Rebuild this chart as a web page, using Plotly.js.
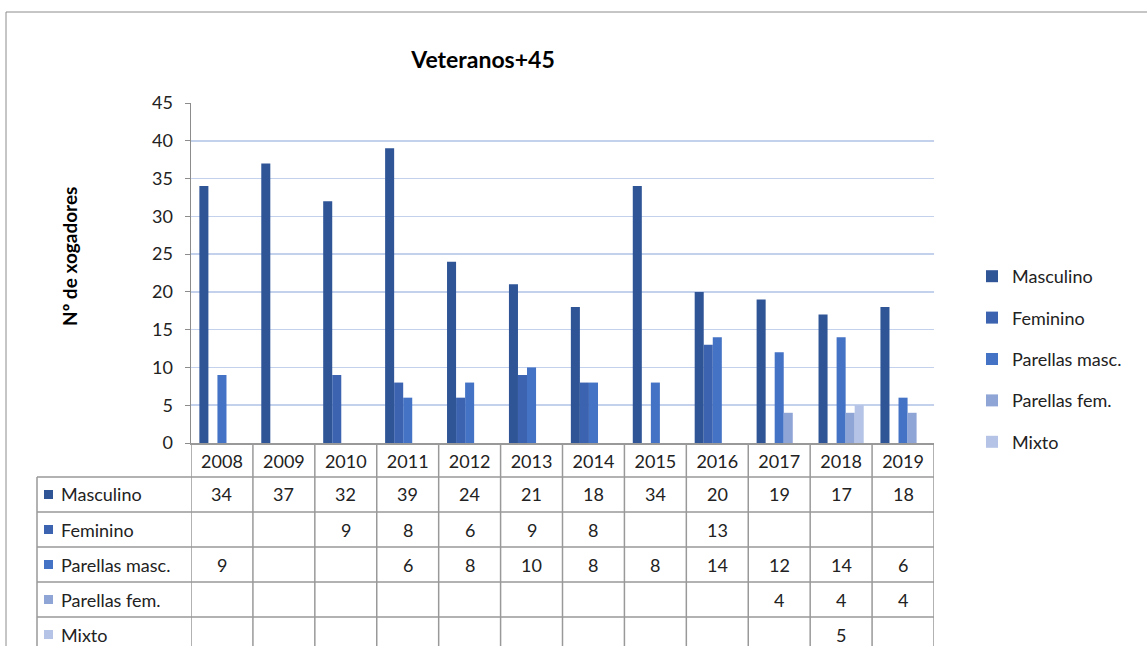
<!DOCTYPE html>
<html>
<head>
<meta charset="utf-8">
<script src="https://cdn.plot.ly/plotly-3.0.1.min.js"></script>
<style>
  html, body { margin: 0; padding: 0; background: #fff; }
  #chart { width: 1147px; height: 646px; }
</style>
</head>
<body>
<div id="chart"></div>
<script>
// data (null = empty cell)
const years = ["2008", "2009", "2010", "2011", "2012", "2013", "2014", "2015", "2016", "2017", "2018", "2019"];
const masculino     = [34, 37, 32, 39, 24, 21, 18, 34, 20, 19, 17, 18];
const feminino      = [null, null, 9, 8, 6, 9, 8, null, 13, null, null, null];
const parellasMasc  = [9, null, null, 6, 8, 10, 8, 8, 14, 12, 14, 6];
const parellasFem   = [null, null, null, null, null, null, null, null, null, 4, 4, 4];
const mixto         = [null, null, null, null, null, null, null, null, null, null, 5, null];

const seriesNames = ["Masculino", "Feminino", "Parellas masc.", "Parellas fem.", "Mixto"];
const seriesVals = [masculino, feminino, parellasMasc, parellasFem, mixto];
const colors = ["#2F5597", "#3B63AF", "#4472C4", "#8FA5D6", "#B4C3E6"];

// plot area in pixels
const W = 1147, H = 646;
const L = 191, R = 934, T = 103, B = 443;
const px2X = px => (px - L) / (R - L);
const px2Y = py => (B - py) / (B - T);

const FONT = "Lato, 'Liberation Sans', sans-serif";
const gridCol = "#999999";

let traces = seriesNames.map((name, i) => ({
    type: "bar",
    name: name,
    x: years,
    y: seriesVals[i],
    marker: { color: colors[i] },
    legendgroup: "g" + i,
    hoverinfo: "x+y+name"
}));

let shapes = [];
let annotations = [];

// chart border
shapes.push({ type: "rect", xref: "paper", yref: "paper",
    x0: px2X(6), x1: px2X(1160), y0: px2Y(12), y1: px2Y(700),
    line: { color: "#8c8c8c", width: 1 } });

// data table: vertical lines at category borders (category index positions)
for (let i = 0; i <= years.length; i++) {
    shapes.push({ type: "line", xref: "x", yref: "paper",
        x0: i - 0.5, x1: i - 0.5, y0: 0, y1: px2Y(680),
        line: { color: gridCol, width: 1.5 } });
}
// label column left edge
shapes.push({ type: "line", xref: "paper", yref: "paper",
    x0: px2X(37), x1: px2X(37), y0: px2Y(477), y1: px2Y(680),
    line: { color: gridCol, width: 1.5 } });

// row lines and rows
const rowTops = [477, 512, 547, 582, 617];
const rowH = 35;
rowTops.forEach((top, r) => {
    shapes.push({ type: "line", xref: "paper", yref: "paper",
        x0: px2X(37), x1: 1, y0: px2Y(top), y1: px2Y(top),
        line: { color: gridCol, width: 1.5 } });
    let cy = top + rowH / 2;
    // key square
    shapes.push({ type: "rect", xref: "paper", yref: "paper",
        x0: px2X(44), x1: px2X(53), y0: px2Y(cy - 4.5), y1: px2Y(cy + 4.5),
        fillcolor: colors[r], line: { width: 0 } });
    annotations.push({ xref: "paper", yref: "paper", x: px2X(59), y: px2Y(cy),
        xanchor: "left", yanchor: "middle", showarrow: false,
        text: seriesNames[r], font: { family: FONT, size: 18, color: "#222" } });
    seriesVals[r].forEach((v, c) => {
        if (v === null) return;
        // x as category index (year strings would be read as numbers)
        annotations.push({ xref: "x", yref: "paper", x: c, y: px2Y(cy),
            xanchor: "center", yanchor: "middle", showarrow: false,
            text: String(v), font: { family: FONT, size: 18, color: "#222" } });
    });
});

// y axis title
annotations.push({ xref: "paper", yref: "paper", x: px2X(70), y: px2Y(256),
    xanchor: "center", yanchor: "middle", showarrow: false, textangle: -90,
    text: "<b>Nº de xogadores</b>", font: { family: FONT, size: 19, color: "#000" } });

let layout = {
    width: W, height: H,
    margin: { l: L, r: W - R, t: T, b: H - B, pad: 0 },
    paper_bgcolor: "#fff", plot_bgcolor: "#fff",
    title: { text: "<b>Veteranos+45</b>", xref: "container", yref: "container",
        x: 483 / W, y: 1 - 60 / H, xanchor: "center", yanchor: "middle",
        font: { family: FONT, size: 23, color: "#000" } },
    barmode: "group",
    bargap: 0.27,
    bargroupgap: 0,
    xaxis: {
        type: "category",
        range: [-0.5, years.length - 0.5],
        showline: true, linecolor: gridCol, linewidth: 1.5,
        showgrid: false, ticks: "", ticklabelstandoff: 2,
        tickfont: { family: FONT, size: 18, color: "#222" },
        fixedrange: true
    },
    yaxis: {
        range: [0, 45], dtick: 5, tick0: 0,
        showline: true, linecolor: "#8c8c8c", linewidth: 1.5,
        ticks: "outside", ticklen: 5, tickcolor: "#8c8c8c",
        gridcolor: "#C3D1EC", gridwidth: 1.5,
        zeroline: false,
        ticklabelstandoff: 8,
        tickfont: { family: FONT, size: 18, color: "#222" },
        fixedrange: true
    },
    legend: {
        x: px2X(972), xanchor: "left",
        y: px2Y(258), yanchor: "top",
        tracegroupgap: 15,
        font: { family: FONT, size: 18, color: "#222" },
        bgcolor: "rgba(0,0,0,0)"
    },
    shapes: shapes,
    annotations: annotations,
    showlegend: true
};

Plotly.newPlot("chart", traces, layout, { displayModeBar: false, staticPlot: true });
</script>
</body>
</html>
